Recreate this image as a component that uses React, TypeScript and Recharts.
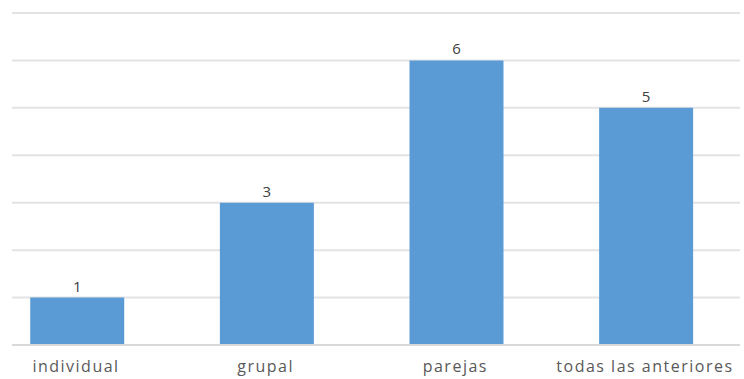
import React from "react";
import { BarChart, Bar, XAxis, YAxis, CartesianGrid, LabelList } from "recharts";

const categories = ["individual", "grupal", "parejas", "todas las anteriores"];
const values = [1, 3, 6, 5];
const yTicks = [0, 1, 2, 3, 4, 5, 6, 7];

const data = categories.map((c, i) => ({ idx: i, name: c, value: values[i] }));

export default function App() {
  return (
    <div style={{ position: "absolute", left: 0, top: 0, width: 744, height: 379, background: "#fff" }}>
      <BarChart
        width={744}
        height={379}
        data={data}
        margin={{ top: 13, right: 4, bottom: 4, left: 12 }}
      >
        <CartesianGrid horizontal vertical={false} stroke="#e3e3e3" strokeWidth={2} />
        <XAxis
          dataKey="idx"
          type="number"
          domain={[-0.343, 3.496]}
          allowDataOverflow
          ticks={[0, 1, 2, 3]}
          tickFormatter={(v: number) => categories[v]}
          height={30}
          axisLine={{ stroke: "#d9d9d9", strokeWidth: 2 }}
          tickLine={false}
          tick={{ fill: "#595959", fontSize: 16, fontFamily: "Open Sans", letterSpacing: 1.5, dx: -1 }}
          tickMargin={10}
        />
        <YAxis hide domain={[0, 7]} ticks={yTicks} />
        <Bar dataKey="value" fill="#5B9BD5" barSize={94} isAnimationActive={false}>
          <LabelList
            dataKey="value"
            position="top"
            offset={6}
            style={{ fill: "#404040", fontSize: 15, fontFamily: "Open Sans" }}
          />
        </Bar>
      </BarChart>
    </div>
  );
}
